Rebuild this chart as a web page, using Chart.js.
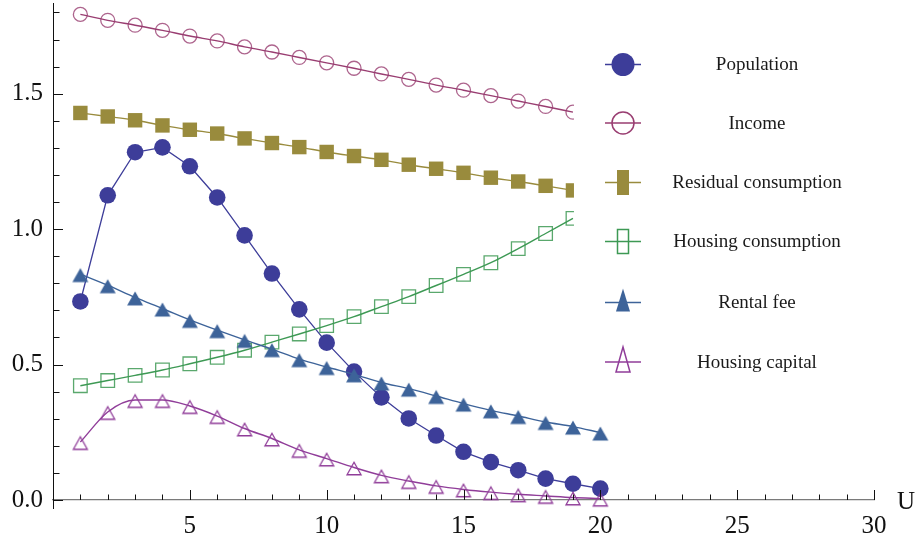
<!DOCTYPE html>
<html>
<head>
<meta charset="utf-8">
<script src="https://cdn.jsdelivr.net/npm/chart.js@4/dist/chart.umd.min.js"></script>
<style>
  html, body { margin: 0; padding: 0; background: #fff; }
  #wrap { width: 919px; height: 545px; }
</style>
</head>
<body>
<div id="wrap"><canvas id="c" width="919" height="545"></canvas></div>
<script>
// ---- data ----
const U = [1,2,3,4,5,6,7,8,9,10,11,12,13,14,15,16,17,18,19,20];
const population = [0.733,1.125,1.284,1.302,1.232,1.117,0.977,0.836,0.704,0.581,0.474,0.379,0.301,0.238,0.178,0.140,0.110,0.079,0.060,0.042];
const income = [1.793,1.771,1.753,1.734,1.713,1.695,1.673,1.654,1.634,1.614,1.594,1.573,1.553,1.532,1.513,1.493,1.473,1.453,1.432];
const residualConsumption = [1.429,1.416,1.402,1.383,1.367,1.353,1.335,1.318,1.303,1.285,1.270,1.256,1.238,1.223,1.208,1.190,1.176,1.160,1.143];
const housingConsumption = [0.422,0.441,0.460,0.480,0.503,0.527,0.553,0.583,0.613,0.644,0.677,0.714,0.751,0.792,0.833,0.876,0.928,0.984,1.040];
const rentalFee = [0.834,0.793,0.748,0.707,0.665,0.627,0.591,0.557,0.520,0.491,0.464,0.434,0.411,0.384,0.356,0.331,0.310,0.288,0.271,0.249];
const housingCapital = [0.214,0.325,0.369,0.369,0.347,0.310,0.264,0.227,0.185,0.153,0.120,0.091,0.070,0.052,0.039,0.029,0.021,0.015,0.009,0.005];
const seriesNames = ['Population','Income','Residual consumption','Housing consumption','Rental fee','Housing capital'];
const xTickLabels = [5,10,15,20,25,30];
const yTickLabels = [0.0,0.5,1.0,1.5];
const xAxisTitle = 'U';

// ---- styles ----
const C = {
  pop: 'rgb(61,61,153)',
  inc: 'rgb(153,61,113)',
  res: 'rgb(153,139,61)',
  hc:  'rgb(61,153,84)',
  rent:'rgb(61,99,153)',
  cap: 'rgb(144,61,153)'
};
const FONT = '"Liberation Serif", "Times New Roman", serif';

function triCanvas(w, h, fill, stroke, lw, a) {
  const cv = document.createElement('canvas');
  const W = Math.ceil(w + 4);
  const H = Math.ceil(2 * (Math.max(a, 1 - a) * h + 2));
  cv.width = W; cv.height = H;
  const g = cv.getContext('2d');
  const cx = W / 2, cy = H / 2;
  g.beginPath();
  g.moveTo(cx, cy - a * h);
  g.lineTo(cx + w / 2, cy + (1 - a) * h);
  g.lineTo(cx - w / 2, cy + (1 - a) * h);
  g.closePath();
  if (fill) { g.fillStyle = fill; g.fill(); }
  if (stroke) { g.strokeStyle = stroke; g.lineWidth = lw; g.lineJoin = 'miter'; g.stroke(); }
  return cv;
}
const rentMarker = triCanvas(16, 14, C.rent, null, 0, 0.42);
const capMarker = triCanvas(14, 12.5, null, C.cap, 1.3, 0.42);

const pts = arr => arr.map((v, i) => ({ x: U[i], y: v }));

const datasets = [
  { label: seriesNames[0], data: pts(population), borderColor: C.pop, borderWidth: 1.3, tension: 0,
    pointStyle: 'circle', pointRadius: 8.3, pointBackgroundColor: C.pop, pointBorderColor: C.pop, pointBorderWidth: 0, order: 6 },
  { label: seriesNames[1], data: pts(income), borderColor: C.inc, borderWidth: 1.4, cubicInterpolationMode: 'monotone',
    pointStyle: 'circle', pointRadius: 7, pointBackgroundColor: 'rgba(0,0,0,0)', pointBorderColor: 'rgba(153,61,113,0.8)', pointBorderWidth: 1.3, order: 5 },
  { label: seriesNames[2], data: pts(residualConsumption), borderColor: C.res, borderWidth: 1.4, cubicInterpolationMode: 'monotone',
    pointStyle: 'rect', pointRadius: 10.2, pointBackgroundColor: C.res, pointBorderColor: C.res, pointBorderWidth: 0, order: 4 },
  { label: seriesNames[3], data: pts(housingConsumption), borderColor: C.hc, borderWidth: 1.4, cubicInterpolationMode: 'monotone',
    pointStyle: 'rect', pointRadius: 9.6, pointBackgroundColor: 'rgba(0,0,0,0)', pointBorderColor: 'rgba(61,153,84,0.85)', pointBorderWidth: 1.3, order: 3 },
  { label: seriesNames[4], data: pts(rentalFee), borderColor: C.rent, borderWidth: 1.4, cubicInterpolationMode: 'monotone',
    pointStyle: rentMarker, pointRadius: 8, order: 2 },
  { label: seriesNames[5], data: pts(housingCapital), borderColor: C.cap, borderWidth: 1.4, cubicInterpolationMode: 'monotone',
    pointStyle: capMarker, pointRadius: 7, order: 1 }
].map(d => Object.assign({ fill: false, clip: false, pointHoverRadius: d.pointRadius }, d));

const markerDrawers = [
  (g, x, y) => { g.beginPath(); g.arc(x, y, 11.5, 0, Math.PI * 2); g.fillStyle = C.pop; g.fill(); },
  (g, x, y) => { g.beginPath(); g.arc(x, y, 11, 0, Math.PI * 2); g.strokeStyle = C.inc; g.lineWidth = 1.5; g.stroke(); },
  (g, x, y) => { g.fillStyle = C.res; g.fillRect(x - 6, y - 12.5, 12, 25); },
  (g, x, y) => { g.strokeStyle = C.hc; g.lineWidth = 1.5; g.strokeRect(x - 5.5, y - 12, 11, 24); },
  (g, x, y) => { g.beginPath(); g.moveTo(x, y - 14); g.lineTo(x + 7, y + 9); g.lineTo(x - 7, y + 9); g.closePath(); g.fillStyle = C.rent; g.fill(); },
  (g, x, y) => { g.beginPath(); g.moveTo(x, y - 15); g.lineTo(x + 7, y + 10); g.lineTo(x - 7, y + 10); g.closePath(); g.strokeStyle = C.cap; g.lineWidth = 1.5; g.stroke(); }
];
const lineColors = [C.pop, C.inc, C.res, C.hc, C.rent, C.cap];

const decor = {
  id: 'decor',
  afterDatasetsDraw(chart) {
    const { ctx } = chart;
    const xs = chart.scales.x;
    // legend backdrop (hides the part of the series behind the legend)
    const lx = xs.getPixelForValue(19) + 1;
    ctx.save();
    ctx.fillStyle = '#ffffff';
    ctx.fillRect(lx, 0, chart.width - lx, 395);
    // legend
    const rowY = [64.5, 123, 182.5, 241.5, 302.5, 362];
    ctx.font = '19px ' + FONT;
    ctx.textAlign = 'center';
    ctx.textBaseline = 'middle';
    seriesNames.forEach((name, i) => {
      const y = rowY[i];
      ctx.beginPath();
      ctx.moveTo(605, y); ctx.lineTo(641, y);
      ctx.strokeStyle = lineColors[i]; ctx.lineWidth = 1.5; ctx.stroke();
      markerDrawers[i](ctx, 623, y);
      ctx.fillStyle = '#1a1a1a';
      ctx.fillText(name, 757, y + 1);
    });
    ctx.restore();
  },
  afterDraw(chart) {
    const { ctx, chartArea: a } = chart;
    const xs = chart.scales.x, ys = chart.scales.y;
    ctx.save();
    ctx.strokeStyle = '#111';
    ctx.lineWidth = 1;
    // y ticks (inside, to the right)
    for (let k = 0; k <= 18; k++) {
      const v = k / 10;
      const py = Math.round(ys.getPixelForValue(v)) + 0.5;
      const len = (k % 5 === 0) ? 10 : 6.5;
      ctx.beginPath(); ctx.moveTo(a.left, py); ctx.lineTo(a.left + len, py); ctx.stroke();
    }
    // x ticks (inside, upward)
    for (let v = 1; v <= 30; v++) {
      const px = Math.round(xs.getPixelForValue(v)) + 0.5;
      const len = (v % 5 === 0) ? 10 : 5.5;
      ctx.beginPath(); ctx.moveTo(px, a.bottom); ctx.lineTo(px, a.bottom - len); ctx.stroke();
    }
    // y axis extension below the x axis
    ctx.beginPath(); ctx.moveTo(a.left + 0.5, a.bottom); ctx.lineTo(a.left + 0.5, a.bottom + 9); ctx.stroke();
    // axis title
    ctx.fillStyle = '#111';
    ctx.font = '25px ' + FONT;
    ctx.textAlign = 'left';
    ctx.textBaseline = 'middle';
    ctx.fillText(xAxisTitle, a.right + 23, a.bottom + 2);
    ctx.restore();
  }
};

new Chart(document.getElementById('c'), {
  type: 'line',
  data: { datasets },
  plugins: [decor],
  options: {
    responsive: false,
    animation: false,
    events: [],
    layout: { autoPadding: false, padding: { top: 3, right: 45, left: 0, bottom: 0 } },
    plugins: { legend: { display: false }, tooltip: { enabled: false } },
    scales: {
      x: {
        type: 'linear', min: 0, max: 30, position: 'bottom',
        afterFit: s => { s.height = 45; s.paddingLeft = 0; s.paddingRight = 0; },
        afterBuildTicks: s => { s.ticks = xTickLabels.map(v => ({ value: v })); },
        grid: { display: false, drawTicks: false },
        border: { display: true, color: '#7a7a7a', width: 1.3 },
        ticks: { autoSkip: false, maxRotation: 0, padding: 11, color: '#111',
                 font: { family: FONT, size: 25 }, callback: v => String(v) }
      },
      y: {
        type: 'linear', min: 0, max: 1.835, position: 'left',
        afterFit: s => { s.width = 53; s.paddingTop = 0; s.paddingBottom = 0; },
        afterBuildTicks: s => { s.ticks = yTickLabels.map(v => ({ value: v })); },
        grid: { display: false, drawTicks: false },
        border: { display: true, color: '#111', width: 1 },
        ticks: { padding: 10, color: '#111', font: { family: FONT, size: 25 },
                 callback: v => Number(v).toFixed(1) }
      }
    }
  }
});
</script>
</body>
</html>
